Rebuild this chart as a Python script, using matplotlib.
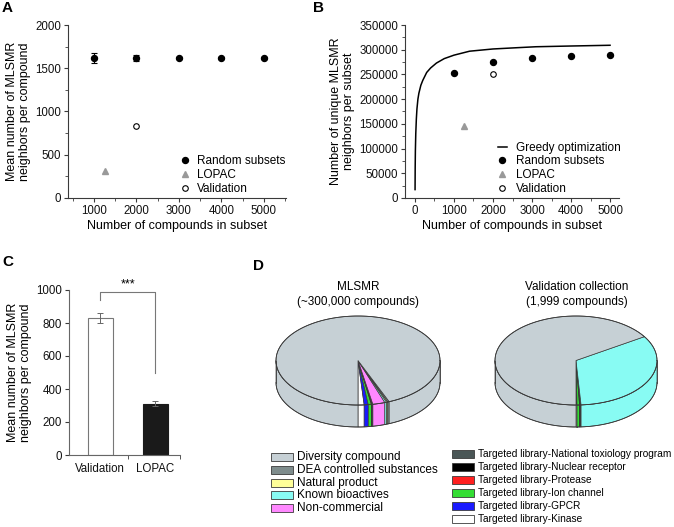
import numpy as np
import matplotlib
matplotlib.use("Agg")
from matplotlib import pyplot as plt
from matplotlib import font_manager
from matplotlib.patches import Polygon, Rectangle
from matplotlib.lines import Line2D

plt.rcParams['font.family'] = ['Liberation Sans', 'DejaVu Sans']
plt.rcParams['axes.edgecolor'] = '#3a3a3a'
plt.rcParams['xtick.color'] = '#3a3a3a'
plt.rcParams['ytick.color'] = '#3a3a3a'
plt.rcParams['xtick.labelcolor'] = '#111111'
plt.rcParams['ytick.labelcolor'] = '#111111'

# ---- panel A data
rand_x = [1000, 2000, 3000, 4000, 5000]
rand_mean = [1620, 1615, 1620, 1620, 1620]
rand_err = [60, 35, 15, 10, 8]
lopac_x = [1260]
lopac_mean = [310]
valid_x = [1999]
valid_mean = [830]

# ---- panel B data
greedy_x = [2, 5, 10, 20, 35, 50, 75, 100, 150, 200, 300, 400, 550, 750,
            1000, 1400, 2000, 2600, 3100, 4000, 5000]
greedy_y = [17000, 60000, 95000, 130000, 160000, 180000, 200000, 212000,
            228000, 238000, 254000, 263000, 273000, 282000, 289000, 297000,
            301500, 304000, 306000, 307500, 309000]
rand_unique = [252000, 275000, 283000, 287000, 289000]
lopac_unique = [145000]
valid_unique = [250000]

# ---- panel C data
c_groups = ['Validation', 'LOPAC']
c_mean = [830, 310]
c_err = [30, 15]

# ---- panel D data (percent of collection)
categories = ['Diversity compound', 'DEA controlled substances', 'Natural product',
              'Known bioactives', 'Non-commercial',
              'Targeted library-National toxiology program',
              'Targeted library-Nuclear receptor', 'Targeted library-Protease',
              'Targeted library-Ion channel', 'Targeted library-GPCR',
              'Targeted library-Kinase']
cat_colors = ['#c6d0d5', '#7e8c8c', '#ffff99', '#88fbf3', '#ff88ff',
              '#4a5656', '#000000', '#ff2020', '#33dd33', '#1a1aff', '#ffffff']
mlsmr_pct = [93.6, 0.3, 0.25, 0.35, 2.4, 0.1, 0.1, 0.1, 0.6, 0.8, 1.2]
valid_pct = [66.0, 0.0, 0.0, 33.0, 0.0, 0.1, 0.2, 0.0, 0.5, 0.1, 0.1]

W, H = 674, 527
fig = plt.figure(figsize=(W / 100, H / 100), dpi=100)


def px_axes(left, top, right, bottom):
    return fig.add_axes([left / W, 1 - bottom / H, (right - left) / W, (bottom - top) / H])


def style_axes(ax):
    ax.spines['top'].set_visible(False)
    ax.spines['right'].set_visible(False)
    ax.tick_params(which='major', direction='out', length=3, width=0.8, labelsize=8.3, pad=2)
    ax.tick_params(which='minor', direction='out', length=2, width=0.6)


def point_handles():
    return [Line2D([], [], marker='o', color='black', ms=4.3, ls='none'),
            Line2D([], [], marker='^', color='#999999', ms=4.5, ls='none'),
            Line2D([], [], marker='o', mfc='white', mec='black', mew=0.8, ms=4, ls='none')]


# ---------------- A
axA = px_axes(68, 25, 286, 198)
axA.errorbar(rand_x, rand_mean, yerr=rand_err, fmt='o', color='black', ms=4.3,
             capsize=2, elinewidth=0.8, capthick=0.8)
axA.plot(lopac_x, lopac_mean, '^', color='#999999', ms=4.5, linestyle='none')
axA.plot(valid_x, valid_mean, 'o', mfc='white', mec='black', mew=0.8, ms=4, linestyle='none')
axA.set_xlim(390, 5520)
axA.set_ylim(0, 2000)
axA.set_xticks([1000, 2000, 3000, 4000, 5000])
axA.set_xticks([500, 1500, 2500, 3500, 4500, 5500], minor=True)
axA.set_yticks([0, 500, 1000, 1500, 2000])
axA.set_yticks([250, 750, 1250, 1750], minor=True)
style_axes(axA)
axA.set_xlabel('Number of compounds in subset', fontsize=9, labelpad=2)
axA.set_ylabel('Mean number of MLSMR\nneighbors per compound', fontsize=9, labelpad=3,
               linespacing=1.15)
axA.legend(point_handles(), ['Random subsets', 'LOPAC', 'Validation'],
           loc='lower right', bbox_to_anchor=(1.02, -0.01), frameon=False,
           fontsize=8.5, handlelength=1.0, handletextpad=0.5, labelspacing=0.15,
           borderaxespad=0)

# ---------------- B
axB = px_axes(405, 25, 619, 198)
axB.plot(greedy_x, greedy_y, '-', color='black', lw=1.1)
axB.plot(rand_x, rand_unique, 'o', color='black', ms=4.3, linestyle='none')
axB.plot(lopac_x, lopac_unique, '^', color='#999999', ms=4.5, linestyle='none')
axB.plot(valid_x, valid_unique, 'o', mfc='white', mec='black', mew=0.8, ms=4, linestyle='none')
axB.set_xlim(-256, 5230)
axB.set_ylim(0, 350000)
axB.set_xticks([0, 1000, 2000, 3000, 4000, 5000])
axB.set_xticks([500, 1500, 2500, 3500, 4500], minor=True)
axB.set_yticks(np.arange(0, 350001, 50000))
axB.set_yticks(np.arange(25000, 350000, 50000), minor=True)
style_axes(axB)
axB.set_xlabel('Number of compounds in subset', fontsize=9, labelpad=2)
axB.set_ylabel('Number of unique MLSMR\nneighbors per subset', fontsize=9, labelpad=3,
               linespacing=1.15)
axB.legend([Line2D([], [], color='black', lw=1.1)] + point_handles(),
           ['Greedy optimization', 'Random subsets', 'LOPAC', 'Validation'],
           loc='lower right', bbox_to_anchor=(1.03, -0.01), frameon=False,
           fontsize=8.5, handlelength=0.7, handletextpad=0.8, labelspacing=0.15,
           borderaxespad=0)

# ---------------- C
axC = px_axes(69, 290, 180, 455)
cx = np.arange(len(c_groups))
axC.bar(cx, c_mean, width=0.45, color=['white', '#1a1a1a'],
        edgecolor=['#777777', '#1a1a1a'], linewidth=0.8)
axC.errorbar(cx, c_mean, yerr=c_err, fmt='none', ecolor='#666666', elinewidth=0.7,
             capsize=2, capthick=0.7)
axC.set_xlim(-0.57, 1.45)
axC.set_ylim(0, 1000)
axC.set_xticks(cx)
axC.set_xticklabels(c_groups)
axC.set_xticks([0.5, 1.45], minor=True)
axC.set_yticks(np.arange(0, 1001, 200))
style_axes(axC)
axC.tick_params(axis='x', which='major', length=0, pad=6)
axC.tick_params(axis='x', which='minor', length=3)
for sp in ['left', 'bottom']:
    axC.spines[sp].set_color('#666666')
axC.set_ylabel('Mean number of MLSMR\nneighbors per compound', fontsize=9, labelpad=3,
               linespacing=1.15)
br_top = 990
axC.plot([cx[0], cx[0], cx[1], cx[1]],
         [c_mean[0] + c_err[0] + 80, br_top, br_top, 500],
         color='#777777', lw=0.8, clip_on=False)
axC.text(0.5, br_top + 8, '***', ha='center', va='bottom', fontsize=9, clip_on=False)

# ---------------- D
axD = px_axes(250, 270, 674, 527)
axD.set_xlim(250, 674)
axD.set_ylim(527, 270)
axD.axis('off')


def draw_pie3d(ax, cx0, cy0, rx, ry, depth, values, colors, start=-90.0):
    # slices drawn counter-clockwise from the front, last legend entry first
    values = list(values)[::-1]
    colors = list(colors)[::-1]
    total = float(sum(values))
    edge = '#3a3a3a'
    bounds = start + 360.0 * np.concatenate([[0], np.cumsum(values)]) / total
    for i in range(len(values)):
        a, b = bounds[i], bounds[i + 1]
        if b - a <= 0:
            continue
        for lo, hi in [(-90.0, 0.0), (180.0, 270.0)]:
            s, e = max(a, lo), min(b, hi)
            if e > s:
                t = np.radians(np.linspace(s, e, 40))
                xs = cx0 + rx * np.cos(t)
                ys = cy0 - ry * np.sin(t)
                pts = np.column_stack([np.concatenate([xs, xs[::-1]]),
                                       np.concatenate([ys, ys[::-1] + depth])])
                ax.add_patch(Polygon(pts, closed=True, facecolor=colors[i],
                                     edgecolor=edge, lw=0.5))
        t = np.radians(np.linspace(a, b, max(4, int((b - a) * 2))))
        pts = np.column_stack([np.concatenate([[cx0], cx0 + rx * np.cos(t)]),
                               np.concatenate([[cy0], cy0 - ry * np.sin(t)])])
        ax.add_patch(Polygon(pts, closed=True, facecolor=colors[i],
                             edgecolor=edge, lw=0.5, joinstyle='miter'))
    t = np.radians(np.linspace(0, 360, 361))
    ax.plot(cx0 + rx * np.cos(t), cy0 - ry * np.sin(t), color=edge, lw=0.6)
    t = np.radians(np.linspace(180, 360, 181))
    ax.plot(cx0 + rx * np.cos(t), cy0 - ry * np.sin(t) + depth, color=edge, lw=0.6)
    ax.plot([cx0 - rx, cx0 - rx], [cy0, cy0 + depth], color=edge, lw=0.6)
    ax.plot([cx0 + rx, cx0 + rx], [cy0, cy0 + depth], color=edge, lw=0.6)


draw_pie3d(axD, 358, 360.5, 82, 44.5, 22, mlsmr_pct, cat_colors)
draw_pie3d(axD, 576, 360.5, 81, 44.5, 22, valid_pct, cat_colors)

axD.text(358, 287, 'MLSMR', ha='center', va='center', fontsize=8.5)
axD.text(358, 302, '(~300,000 compounds)', ha='center', va='center', fontsize=8.5)
axD.text(577, 287, 'Validation collection', ha='center', va='center', fontsize=8.5)
axD.text(577, 302, '(1,999 compounds)', ha='center', va='center', fontsize=8.5)

# legend of D; right column uses a narrow face if one is installed
installed = {f.name for f in font_manager.fontManager.ttflist}
if 'Liberation Sans Narrow' in installed:
    narrow_fam, narrow_size = ['Liberation Sans Narrow', 'Liberation Sans'], 8.5
else:
    narrow_fam, narrow_size = ['Liberation Sans', 'DejaVu Sans'], 7.3

n_left = 5
for i, (lab, col) in enumerate(zip(categories, cat_colors)):
    if i < n_left:
        bx, by, tx, fam, fs = 271, 457 + 12.8 * i, 297, ['Liberation Sans', 'DejaVu Sans'], 8.5
    else:
        j = i - n_left
        bx, by, tx, fam, fs = 452, 454 + 13 * j, 478, narrow_fam, narrow_size
    axD.add_patch(Rectangle((bx, by - 4), 22, 8, facecolor=col, edgecolor='#3a3a3a', lw=0.6,
                            clip_on=False))
    axD.text(tx, by, lab, ha='left', va='center', fontsize=fs, family=fam, clip_on=False)

# panel letters
for lab, x, y in [('A', 2, 8), ('B', 313, 8), ('C', 2, 262), ('D', 253, 266)]:
    fig.text(x / W, 1 - y / H, lab, fontsize=11, fontweight='bold', ha='left', va='center')

fig.savefig('out.png', dpi=100)
